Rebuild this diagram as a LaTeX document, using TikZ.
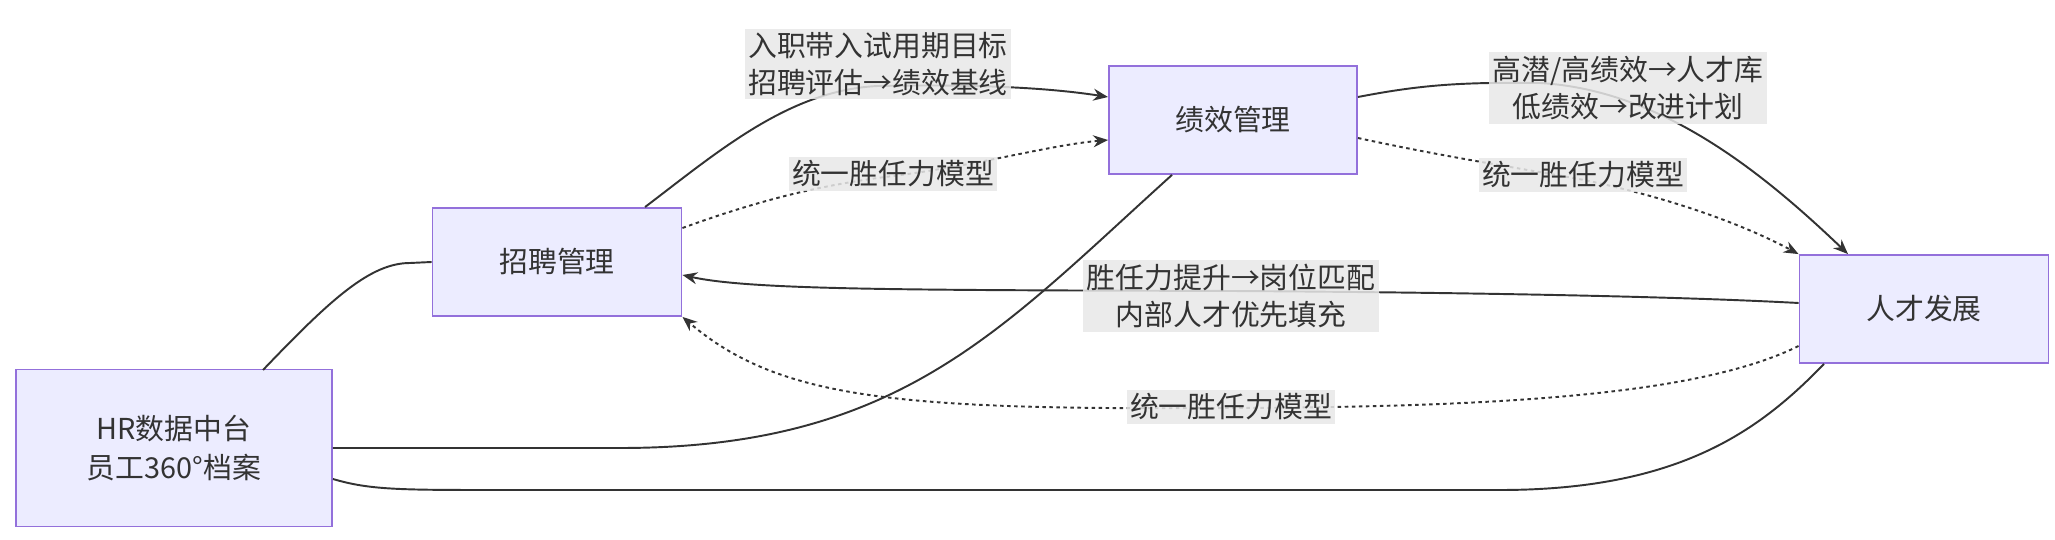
\documentclass[tikz,border=0pt]{standalone}
\usepackage{fontspec}
\setmainfont{Noto Sans CJK SC}
\usetikzlibrary{arrows.meta}
\definecolor{boxfill}{HTML}{ECECFF}
\definecolor{boxline}{HTML}{9370DB}
\definecolor{ink}{HTML}{333333}
\definecolor{lblbg}{HTML}{E8E8E8}
\begin{document}
\begin{tikzpicture}[x=0.01cm,y=-0.01cm,
  box/.style={draw=boxline,fill=boxfill,line width=0.5pt,text=ink,font=\fontsize{8.2pt}{11pt}\selectfont,align=center,inner sep=0pt},
  lbl/.style={fill=lblbg,fill opacity=0.85,text opacity=1,text=ink,font=\fontsize{8.2pt}{10.6pt}\selectfont,align=center,inner sep=1pt},
  edge/.style={draw=ink,line width=0.55pt},
  dot/.style={edge,dash pattern=on 1pt off 1pt},
  arr/.style={-{Stealth[length=4.2pt,width=3.4pt]}}]
\useasboundingbox (0,0) rectangle (2055,540);
\node[box,minimum width=3.16cm,minimum height=1.57cm] (hr) at (174,448) {HR数据中台\\员工360°档案};
\node[box,minimum width=2.49cm,minimum height=1.08cm] (zp) at (557,262) {招聘管理};
\node[box,minimum width=2.48cm,minimum height=1.08cm] (jx) at (1233,120) {绩效管理};
\node[box,minimum width=2.49cm,minimum height=1.08cm] (rc) at (1924,309) {人才发展};
\coordinate (c1) at (263,370);
% edges
\draw[edge] (c1) .. controls (330,300) and (370,263) .. (410,263) -- (zp.west);
\draw[edge,arr] (zp.north -| 645,0) .. controls (720,150) and (790,90) .. (878,86) .. controls (980,84) and (1050,88) .. (jx.west |- 0,97);
\draw[dot,arr] (zp.east |- 0,228) .. controls (760,200) and (820,185) .. (893,176) .. controls (980,165) and (1050,145) .. (jx.west |- 0,140);
\draw[edge,arr] (jx.east |- 0,97) .. controls (1420,85) and (1460,82) .. (1540,83) .. controls (1660,90) and (1760,170) .. (rc.north -| 1848,0);
\draw[dot,arr] (jx.east |- 0,138) .. controls (1450,158) and (1520,168) .. (1584,180) .. controls (1680,200) and (1750,228) .. (rc.north west);
\draw[edge,arr] (rc.west |- 0,303) .. controls (1650,295) and (1400,292) .. (1231,291) .. controls (900,290) and (750,290) .. (zp.east |- 0,275);
\draw[dot,arr] (rc.west |- 0,346) .. controls (1700,395) and (1500,407) .. (1231,408) .. controls (900,410) and (780,400) .. (zp.south east);
\draw[edge] (hr.east |- 0,448) -- (620,448) .. controls (900,448) and (1000,330) .. (jx.south -| 1172,0);
\draw[edge] (hr.east |- 0,479) .. controls (370,490) and (400,490) .. (500,490) -- (1500,490) .. controls (1680,490) and (1760,430) .. (rc.south -| 1824,0);
% labels
\node[lbl] (l1) at (878,64) {入职带入试用期目标\\招聘评估→绩效基线};
\node[lbl] (l2) at (893,174) {统一胜任力模型};
\node[lbl] (l3) at (1628,88) {高潜/高绩效→人才库\\低绩效→改进计划};
\node[lbl] (l4) at (1583,175) {统一胜任力模型};
\node[lbl] (l5) at (1231,296) {胜任力提升→岗位匹配\\内部人才优先填充};
\node[lbl] (l6) at (1231,407) {统一胜任力模型};
\end{tikzpicture}
\end{document}
